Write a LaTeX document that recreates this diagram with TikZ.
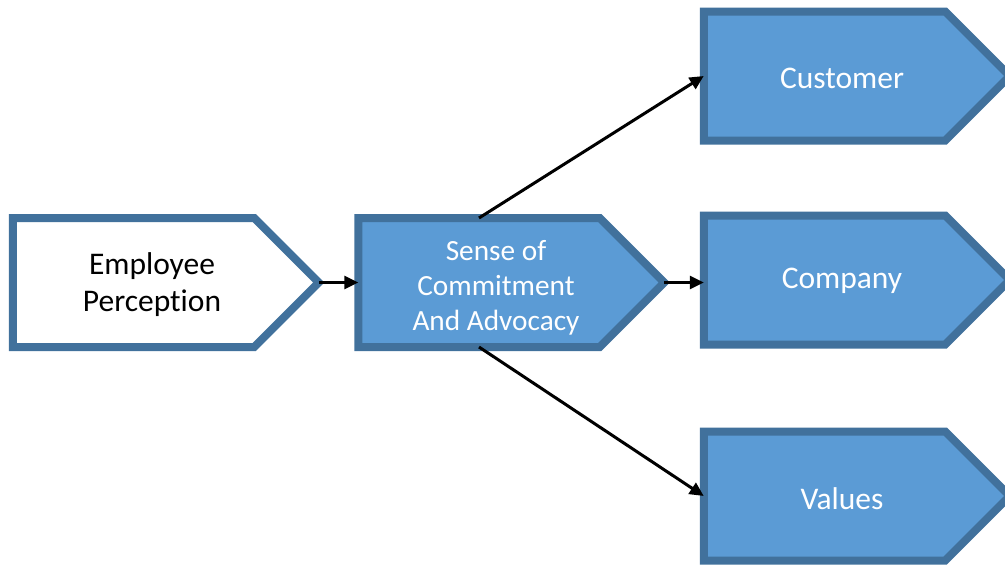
\documentclass[tikz,border=0pt]{standalone}
\usepackage{fontspec}
\setmainfont{Carlito}[Ligatures=NoCommon]
\usetikzlibrary{shapes.symbols,arrows.meta}
\definecolor{edgeblue}{HTML}{41719C}
\definecolor{fillblue}{HTML}{5B9BD5}
\tikzset{
  chevron/.style={signal, signal to=east, signal pointer angle=90,
    draw=edgeblue, line width=8pt, minimum width=306pt, minimum height=129pt,
    inner sep=0pt, outer sep=0pt},
  bluebox/.style={chevron, fill=fillblue},
  whitebox/.style={chevron, fill=white},
  bigtext/.style={font=\fontsize{31.5}{37}\selectfont, align=center},
  midtext/.style={font=\fontsize{29.3}{35}\selectfont, align=center},
  link/.style={line width=3pt, -{Triangle[length=14pt,width=13pt]}},
}
\begin{document}
\begin{tikzpicture}[x=1pt,y=-1pt]
  \useasboundingbox (0,0) rectangle (1005,565);

  % boxes (anchored at the centre of the rectangular body)
  \node[whitebox] (emp) at (133.5,282.5) {};
  \node[bluebox] (sense) at (479,282.5) {};
  \node[bluebox] (cust) at (824.5,76) {};
  \node[bluebox] (comp) at (824.5,280) {};
  \node[bluebox] (vals) at (824.5,496) {};

  % labels
  \node[bigtext, text=black] (empL) at (152,285) {Employee\\Perception};
  \node[midtext, text=white] (senseL) at (496,288) {Sense of\\Commitment\\And Advocacy};
  \node[bigtext, text=white] (custL) at (842,78) {Customer};
  \node[bigtext, text=white] (compL) at (842,281) {Company};
  \node[bigtext, text=white] (valsL) at (842,499) {Values};

  % connectors
  \draw[link] (emp.east) -- (sense.west);
  \draw[link] (sense.east) -- (sense.east -| comp.west);
  \draw[link] (sense.north) -- (cust.west);
  \draw[link] (sense.south) -- (vals.west);
\end{tikzpicture}
\end{document}
